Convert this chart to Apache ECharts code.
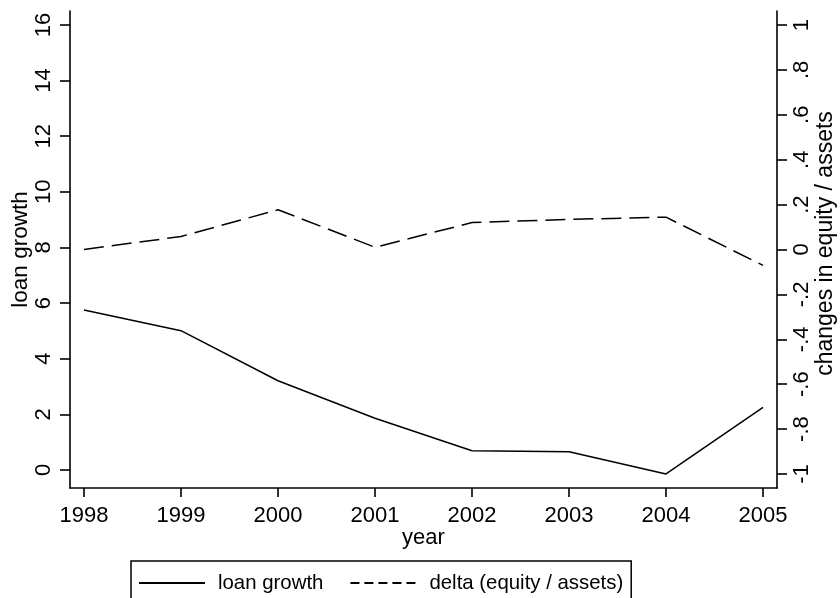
<!DOCTYPE html>
<html>
<head>
<meta charset="utf-8">
<title>Loan growth and delta (equity / assets)</title>
<script src="https://cdn.jsdelivr.net/npm/echarts@6/dist/echarts.min.js"></script>
<style>
  html, body { margin: 0; padding: 0; background: #fff; }
  #chart { width: 840px; height: 598px; }
</style>
</head>
<body>
<div id="chart"></div>
<script>
// Years on the x axis
const years = [1998, 1999, 2000, 2001, 2002, 2003, 2004, 2005];
// Loan growth (left axis)
const loanGrowth = [5.75, 5.01, 3.21, 1.86, 0.69, 0.66, -0.14, 2.25];
// Change in equity / assets (right axis)
const deltaEquity = [0.00, 0.058, 0.177, 0.01, 0.12, 0.134, 0.144, -0.071];

// Tick values
const leftTicks = [0, 2, 4, 6, 8, 10, 12, 14, 16];
const rightTicks = [-1, -0.8, -0.6, -0.4, -0.2, 0, 0.2, 0.4, 0.6, 0.8, 1];

const seriesNames = ['loan growth', 'delta (equity / assets)'];

const FONT = 'Liberation Sans, Arial, Helvetica, sans-serif';
const INK = '#000';

function stataDecimal(v) {
  if (v === 0) return '0';
  if (Math.abs(v) === 1) return String(v);
  return v.toFixed(1).replace('0.', '.');
}

const chart = echarts.init(document.getElementById('chart'), null, { renderer: 'canvas' });

const axisLine = { show: true, onZero: false, lineStyle: { color: INK, width: 1.6 } };
const tickStyle = { color: INK, width: 1.6 };

chart.setOption({
  animation: false,
  backgroundColor: '#fff',
  grid: { left: 70, right: 63, top: 11, bottom: 110, containLabel: false, outerBoundsMode: 'none' },
  xAxis: {
    type: 'value',
    min: 1997.856,
    max: 2005.144,
    name: 'year',
    nameLocation: 'middle',
    nameGap: 39,
    nameMoveOverlap: false,
    nameTextStyle: { color: INK, fontFamily: FONT, fontSize: 22 },
    axisLine: axisLine,
    axisTick: { show: true, length: 9, lineStyle: tickStyle, customValues: years },
    axisLabel: {
      color: INK, fontFamily: FONT, fontSize: 22, margin: 17,
      customValues: years,
      formatter: v => String(Math.round(v))
    },
    splitLine: { show: false }
  },
  yAxis: [
    {
      type: 'value',
      position: 'left',
      min: -0.647,
      max: 16.503,
      name: 'loan growth',
      nameLocation: 'middle',
      nameGap: 38,
      nameMoveOverlap: false,
      nameTextStyle: { color: INK, fontFamily: FONT, fontSize: 22.5 },
      axisLine: axisLine,
      axisTick: { show: true, length: 10, lineStyle: tickStyle, customValues: leftTicks },
      axisLabel: {
        color: INK, fontFamily: FONT, fontSize: 22, rotate: 90, margin: 15,
        customValues: leftTicks,
        formatter: v => String(Math.round(v))
      },
      splitLine: { show: false }
    },
    {
      type: 'value',
      position: 'right',
      min: -1.0624,
      max: 1.0624,
      name: 'changes in equity / assets',
      nameLocation: 'middle',
      nameGap: 37,
      nameMoveOverlap: false,
      nameTextStyle: { color: INK, fontFamily: FONT, fontSize: 23, padding: [0, 0, 0, 12] },
      axisLine: axisLine,
      axisTick: { show: true, length: 10, lineStyle: tickStyle, customValues: rightTicks },
      axisLabel: {
        color: INK, fontFamily: FONT, fontSize: 22, rotate: 90, margin: 14,
        customValues: rightTicks,
        formatter: stataDecimal
      },
      splitLine: { show: false }
    }
  ],
  legend: {
    left: 131,
    top: 561,
    orient: 'horizontal',
    itemWidth: 66,
    itemHeight: 20,
    itemGap: 26,
    padding: [12, 8, 16, 7],
    borderColor: INK,
    borderWidth: 1.5,
    borderRadius: 0,
    itemStyle: { opacity: 0 },
    textStyle: { color: INK, fontFamily: FONT, fontSize: 20.4, padding: [0, 0, 0, 8] },
    data: [
      { name: seriesNames[0] },
      { name: seriesNames[1], lineStyle: { type: [9, 5] } }
    ]
  },
  series: [
    {
      name: seriesNames[0],
      type: 'line',
      yAxisIndex: 0,
      data: years.map((y, i) => [y, loanGrowth[i]]),
      symbol: 'none',
      lineStyle: { color: INK, width: 1.5, type: 'solid' },
      itemStyle: { color: INK }
    },
    {
      name: seriesNames[1],
      type: 'line',
      yAxisIndex: 1,
      data: years.map((y, i) => [y, deltaEquity[i]]),
      symbol: 'none',
      lineStyle: { color: INK, width: 1.5, type: [20, 8] },
      itemStyle: { color: INK }
    }
  ]
});
</script>
</body>
</html>
